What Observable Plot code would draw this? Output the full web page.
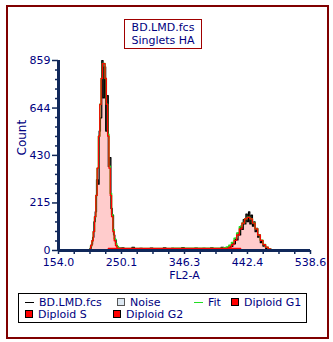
<!DOCTYPE html>
<html><head><meta charset="utf-8">
<script src="https://cdn.jsdelivr.net/npm/d3@7"></script>
<script src="https://cdn.jsdelivr.net/npm/@observablehq/plot@0.6"></script>
<style>
html,body{margin:0;padding:0;background:#fff;}
#wrap{position:relative;width:333px;height:342px;font-family:"DejaVu Sans",Verdana,sans-serif;color:#000080;}
#border{position:absolute;left:6px;top:5px;width:319px;height:330px;border:2px solid #800000;}
#title{position:absolute;left:124px;top:19px;width:76px;height:27px;border:1.5px solid #a00000;font-size:11px;line-height:13px;text-align:center;padding-top:1px;}
#legend{position:absolute;left:18px;top:293px;width:287px;height:28px;border:1.5px solid #000;font-size:11px;}
.li{position:absolute;white-space:nowrap;line-height:12px;}
.sq{display:inline-block;width:6px;height:6px;border:1px solid #000;vertical-align:0px;margin-right:5px;}
.ln{display:inline-block;width:9px;height:0;border-top:1.5px solid #000;vertical-align:3px;margin-right:5px;}
#plot{position:absolute;left:0;top:0;}
</style></head>
<body><div id="wrap"><div id="border"></div><div id="plot"></div>
<div id="title">BD.LMD.fcs<br>Singlets HA</div>
<div id="legend"></div></div>
<script>
// ---- data ----
const xTicks = [154.0, 250.1, 346.3, 442.4, 538.6];
const yTicks = [0, 215, 430, 644, 859];
const g1X   = [200,202,204,206,208,210,212,214,216,218,220,222,224,226,228,230,232,234,236,238,240,242,244,246,248,250];
const g1Fit = [0,5,22,44,85,153,249,372,517,661,778,845,845,778,661,517,372,249,153,85,44,22,9,4,1,0];
const g1DataX = [201,203,205,207,209,211,213,215,217,219,221,223,225,227,229,231,233,235,237,239,241,243,245,247,249];
const g1Data  = [2,10,28,60,130,175,320,300,540,600,859,690,830,540,700,380,420,190,160,70,48,22,15,9,11];
const sX   = [230, 432];
const sFit = [9, 9];
const sDataX = [252,256,260,264,268,272,276,280,284,288,292,296,300,304,308,312,316,320,324,328,332,336,340,344,348,352,356,360,364,368,372,376,380,384,388,392,396,400,404,408];
const sData  = [12,4,9,2,14,6,3,10,5,8,1,11,7,3,9,4,12,2,6,10,3,8,5,13,2,7,9,4,11,3,6,10,5,8,12,4,9,6,14,10];
const g2X   = [404,408,412,416,420,424,428,432,436,440,444,448,452,456,460,464,468,472,476,480,484];
const g2Fit = [1,3,7,15,27,46,70,98,124,143,150,143,124,98,70,46,27,15,7,3,1];
const g2DataX = [411,413,415,417,419,421,423,425,427,429,431,433,435,437,439,441,443,445,447,449,451,453,455,457,459,461,463,465,467,469,471,473,475,477,479];
const g2Data  = [8,14,10,22,18,35,30,55,48,80,70,110,95,140,120,165,130,175,120,160,110,130,85,100,60,70,35,45,20,25,10,12,5,6,2];
const legendItems = [
  {name:"BD.LMD.fcs", kind:"line", color:"#000"},
  {name:"Noise", kind:"square", color:"#dde8f2"},
  {name:"Fit", kind:"line", color:"#22dd22"},
  {name:"Diploid G1", kind:"square", color:"#ff0000"},
  {name:"Diploid S", kind:"square", color:"#ff0000"},
  {name:"Diploid G2", kind:"square", color:"#ff0000"}
];

// ---- build tables ----
const pts = (xs, ys) => xs.map((x, i) => ({x, y: ys[i]}));
const g1 = pts(g1X, g1Fit), g2 = pts(g2X, g2Fit), sp = pts(sX, sFit);
const data = pts(g1DataX, g1Data).concat(pts(sDataX, sData), pts(g2DataX, g2Data));
const fitTotal = g1X.map((x, i) => ({x, y: g1Fit[i] + (x >= sX[0] ? sFit[0] : 0)}))
  .concat(g2X.map((x, i) => ({x, y: g2Fit[i] + (x <= sX[1] ? sFit[1] : 0)})));

const minor = (ticks, n) => {
  const out = [];
  for (let i = 0; i < ticks.length - 1; i++)
    for (let k = 1; k < n; k++) out.push(ticks[i] + (ticks[i+1]-ticks[i]) * k / n);
  return out;
};
const navy = "#000080", axisC = "#10285a";
const blank = () => "";

const chart = Plot.plot({
  width: 333, height: 342,
  marginLeft: 58, marginRight: 23, marginTop: 60, marginBottom: 92,
  style: {fontFamily: '"DejaVu Sans", Verdana, sans-serif', fontSize: "11px", color: navy, background: "transparent"},
  x: {domain: [154, 538.6]},
  y: {domain: [0, 859]},
  marks: [
    Plot.areaY(g1, {x: "x", y: "y", fill: "#ffcccc", curve: "step"}),
    Plot.areaY(g2, {x: "x", y: "y", fill: "#ffcccc", curve: "step"}),
    Plot.areaY(sp, {x: "x", y: "y", fill: "#ffcccc", curve: "step-after"}),
    Plot.line(data, {x: "x", y: "y", stroke: "#000", strokeWidth: 1.2, curve: "step"}),
    Plot.line(fitTotal, {x: "x", y: "y", stroke: "#22dd22", strokeWidth: 1.5, curve: "step"}),
    Plot.line(g1, {x: "x", y: "y", stroke: "#ff0000", strokeWidth: 1.3, curve: "step"}),
    Plot.line(g2, {x: "x", y: "y", stroke: "#ff0000", strokeWidth: 1.3, curve: "step"}),
    Plot.line(sp, {x: "x", y: "y", stroke: "#ff0000", strokeWidth: 1.3}),
    Plot.axisX({ticks: minor(xTicks, 4), tickFormat: blank, tickSize: 4, stroke: axisC, strokeWidth: 1.5, label: null}),
    Plot.axisX({ticks: xTicks, tickFormat: d => d.toFixed(1), tickSize: 4, tickPadding: 3.5, stroke: axisC, strokeWidth: 1.5, fill: navy, label: null}),
    Plot.axisY({ticks: minor(yTicks, 5), tickFormat: blank, tickSize: 3, stroke: axisC, strokeWidth: 1.5, label: null}),
    Plot.axisY({ticks: yTicks, tickFormat: d => String(d), tickSize: 6, tickPadding: 2, stroke: axisC, strokeWidth: 1.5, fill: navy, label: null}),
    Plot.ruleX([154], {stroke: axisC, strokeWidth: 3}),
    Plot.ruleY([0], {stroke: axisC, strokeWidth: 3}),
    Plot.text(["FL2-A"], {frameAnchor: "bottom", dy: 28, fontSize: 11, fill: navy}),
    Plot.text(["Count"], {frameAnchor: "left", dx: -36, rotate: -90, fontSize: 12, fill: navy})
  ]
});
document.getElementById("plot").appendChild(chart);

const pos = [[6,3],[98,3],[175,3],[212,3],[6,15],[94,15]];
const lg = document.getElementById("legend");
legendItems.forEach((it, i) => {
  const d = document.createElement("div");
  d.className = "li";
  d.style.left = pos[i][0] + "px"; d.style.top = pos[i][1] + "px";
  const sym = document.createElement("span");
  if (it.kind === "line") { sym.className = "ln"; sym.style.borderTopColor = it.color; }
  else { sym.className = "sq"; sym.style.background = it.color; if (it.name === "Noise") sym.style.borderColor = "#555"; }
  d.appendChild(sym);
  d.appendChild(document.createTextNode(it.name));
  lg.appendChild(d);
});
</script></body></html>
